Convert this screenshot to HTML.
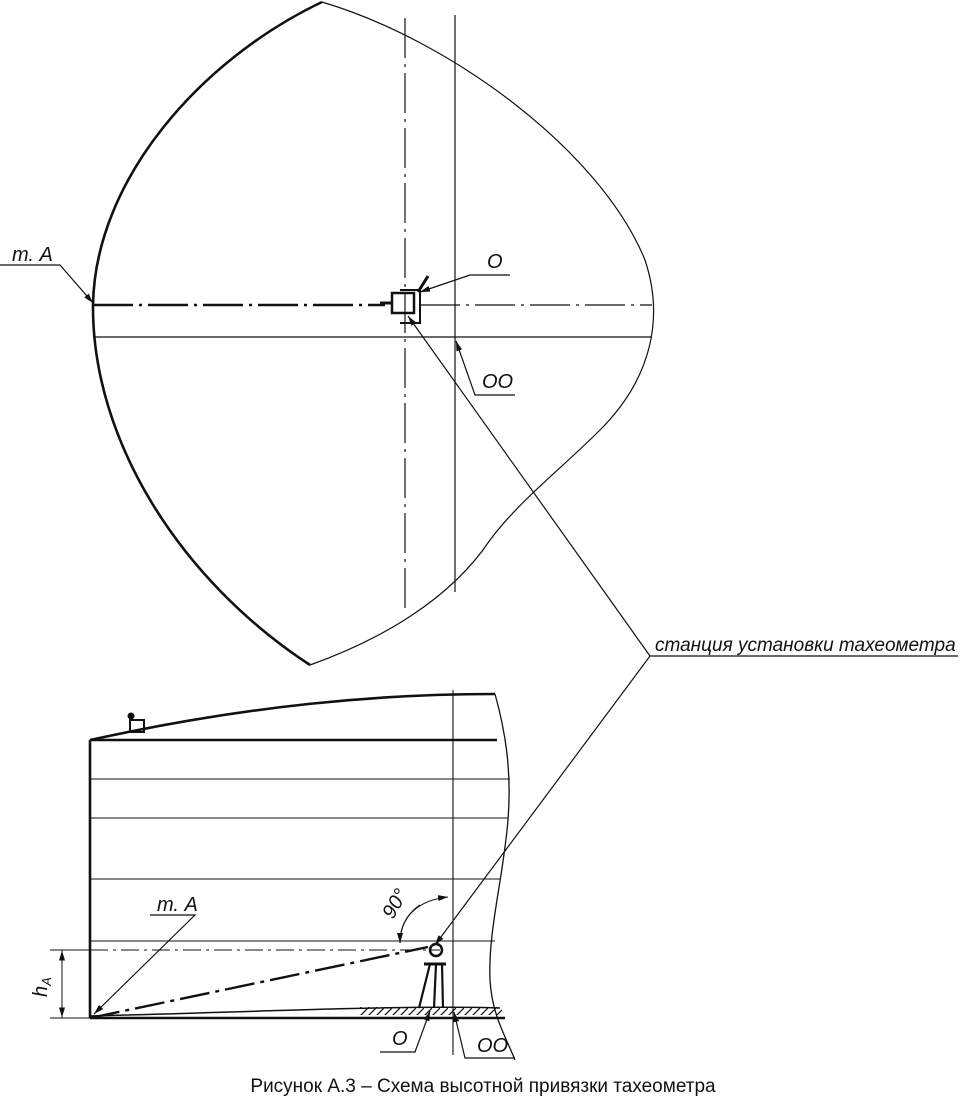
<!DOCTYPE html>
<html><head><meta charset="utf-8"><style>
html,body{margin:0;padding:0;background:#fff;}
svg{display:block}
text{font-family:"Liberation Sans",sans-serif;fill:#111}
.it{font-style:italic;font-size:20px}
</style></head><body>
<svg width="967" height="1116" viewBox="0 0 967 1116" xmlns="http://www.w3.org/2000/svg">
<defs>
<marker id="a" markerWidth="10" markerHeight="6" refX="10" refY="3" orient="auto" markerUnits="userSpaceOnUse"><path d="M0,0 L10,3 L0,6z" fill="#111"/></marker>
<pattern id="h" width="8" height="8" patternUnits="userSpaceOnUse"><path d="M0,8 L8,0" stroke="#111" stroke-width="1.2"/></pattern>
</defs>
<g fill="none" stroke="#111">
<!-- top shape -->
<path d="M322,2 C200,60 95,180 93,305 C92,440 180,580 310,665" stroke-width="2.6"/>
<path d="M322,2 C450,40 600,150 645,260 C665,320 650,380 600,430 C560,470 520,500 490,540 C450,600 380,640 310,665" stroke-width="1.2"/>
<line x1="405" y1="18" x2="405" y2="612" stroke-width="1.2" stroke-dasharray="40,6,3,6"/>
<line x1="455" y1="15" x2="455" y2="592" stroke-width="1.2"/>
<line x1="93" y1="305" x2="385" y2="305" stroke-width="2.4" stroke-dasharray="40,6,3,6"/>
<line x1="420" y1="305" x2="652" y2="305" stroke-width="1.2" stroke-dasharray="40,6,3,6"/>
<line x1="93" y1="337" x2="652" y2="337" stroke-width="1.2"/>
<!-- device top -->
<rect x="392" y="293" width="22" height="20" stroke-width="2.5"/>
<path d="M400,290 L420,290 L420,323 L400,323" stroke-width="2"/>
<path d="M392,303 L380,303" stroke-width="3"/>
<path d="M418,292 L428,276" stroke-width="3"/>
<!-- leaders top -->
<polyline points="0,265 60,265 93,303" stroke-width="1.2" marker-end="url(#a)"/>
<polyline points="510,275 470,275 420,292" stroke-width="1.2" marker-end="url(#a)"/>
<polyline points="515,395 475,395 456,341" stroke-width="1.2" marker-end="url(#a)"/>
<polyline points="958,656 650,656 408,316" stroke-width="1.2" marker-end="url(#a)"/>
<line x1="650" y1="656" x2="435" y2="945" stroke-width="1.2" marker-end="url(#a)"/>
<!-- bottom -->
<path d="M90,740 C250,705 380,694 495,694" stroke-width="2.6"/>
<line x1="90" y1="740" x2="497" y2="740" stroke-width="2.6"/>
<line x1="90" y1="740" x2="90" y2="1018" stroke-width="2.6"/>
<line x1="90" y1="779" x2="510" y2="779" stroke-width="1.1"/>
<line x1="90" y1="818" x2="508" y2="818" stroke-width="1.1"/>
<line x1="90" y1="879" x2="500" y2="879" stroke-width="1.1"/>
<line x1="90" y1="941" x2="495" y2="941" stroke-width="1.1"/>
<path d="M495,694 C505,730 512,770 508,820 C503,880 488,930 490,980 C492,1015 505,1035 515,1060" stroke-width="1.3"/>
<line x1="453" y1="690" x2="453" y2="1055" stroke-width="1.1"/>
<line x1="90" y1="950" x2="440" y2="950" stroke-width="1.1" stroke-dasharray="18,5,3,5"/>
<line x1="90" y1="1018" x2="428" y2="947" stroke-width="2.4" stroke-dasharray="30,6,4,6"/>
<rect x="360" y="1007" width="142" height="8" fill="url(#h)" stroke="none"/>
<path d="M90,1018 L505,1018" stroke-width="2.4"/>
<path d="M90,1016 C250,1012 400,1005 500,1008" stroke-width="1.5"/>
<!-- tachymeter bottom -->
<circle cx="436" cy="950" r="6" stroke-width="2.5"/>
<line x1="424" y1="964" x2="446" y2="964" stroke-width="3"/>
<path d="M430,964 L419,1008 M442,964 L443,1008 M436,964 L434,1008" stroke-width="2.2"/>
<!-- small tachymeter top -->
<rect x="130" y="720" width="14" height="12" stroke-width="2"/>
<circle cx="131" cy="716" r="3" fill="#111"/>
<!-- hA -->
<line x1="50" y1="950" x2="90" y2="950" stroke-width="1"/>
<line x1="50" y1="1018" x2="90" y2="1018" stroke-width="1"/>
<line x1="62" y1="960" x2="62" y2="1008" stroke-width="1"/>
<line x1="62" y1="970" x2="62" y2="950.5" marker-end="url(#a)" stroke-width="1"/>
<line x1="62" y1="1000" x2="62" y2="1017.5" marker-end="url(#a)" stroke-width="1"/>
<!-- 90 arc -->
<path d="M400,943 C400,915 420,900 448,897" stroke-width="1.1" marker-end="url(#a)"/>
<path d="M420,905 C405,915 400,930 400,943" stroke-width="1.1" marker-end="url(#a)"/>
<!-- leaders bottom -->
<polyline points="150,915 195,915 94,1014" stroke-width="1.2" marker-end="url(#a)"/>
<polyline points="380,1052 415,1052 430,1011" stroke-width="1.2" marker-end="url(#a)"/>
<polyline points="515,1058 465,1058 454,1012" stroke-width="1.2" marker-end="url(#a)"/>
</g>
<text class="it" x="12" y="261">т. А</text>
<text class="it" x="487" y="268">О</text>
<text class="it" x="482" y="388">ОО</text>
<text class="it" x="655" y="651" style="font-size:19px">станция установки тахеометра</text>
<text class="it" x="157" y="911">т. А</text>
<text class="it" transform="translate(393,920) rotate(-60)">90°</text>
<text class="it" x="392" y="1045">О</text>
<text class="it" x="477" y="1052">ОО</text>
<text class="it" transform="translate(47,997) rotate(-90)">h<tspan font-size="13" dy="4">A</tspan></text>
<text x="483" y="1092" text-anchor="middle" font-size="19">Рисунок А.3 – Схема высотной привязки тахеометра</text>
</svg>
</body></html>
